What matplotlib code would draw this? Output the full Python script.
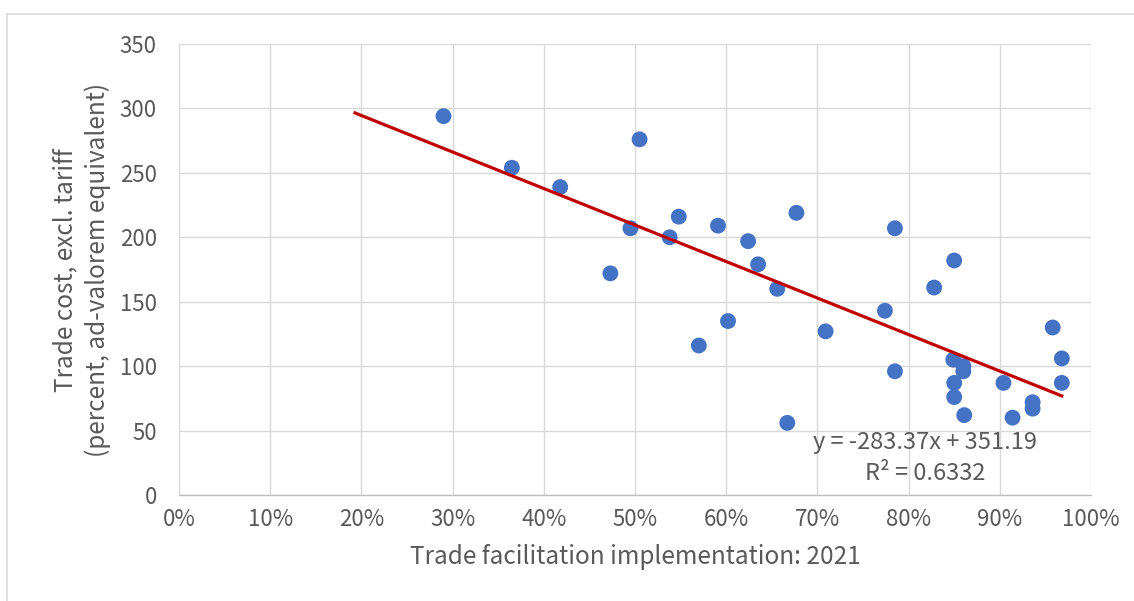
import numpy as np
import matplotlib as mpl
mpl.use('Agg')
import matplotlib.pyplot as plt
from matplotlib.ticker import PercentFormatter
from matplotlib.lines import Line2D

plt.rcParams['font.family'] = ['Noto Sans CJK SC', 'DejaVu Sans']
plt.rcParams['font.weight'] = 'light'

# ------------------------------------------------------------------
# Data
# ------------------------------------------------------------------
tf_impl = [0.290, 0.365, 0.418, 0.473, 0.495, 0.505, 0.538, 0.548, 0.570,
           0.591, 0.602, 0.624, 0.635, 0.656, 0.667, 0.677, 0.709, 0.774,
           0.785, 0.785, 0.828, 0.850, 0.849, 0.850, 0.850, 0.860, 0.860,
           0.861, 0.904, 0.914, 0.936, 0.936, 0.958, 0.968, 0.968]
trade_cost = [294, 254, 239, 172, 207, 276, 200, 216, 116,
              209, 135, 197, 179, 160, 56, 219, 127, 143,
              207, 96, 161, 182, 105, 87, 76, 100, 96,
              62, 87, 60, 72, 67, 130, 106, 87]

slope, intercept, r2 = -283.37, 351.19, 0.6332
trend_x = [0.193, 0.968]

ylabel_lines = ["Trade cost, excl. tariff", "(percent, ad-valorem equivalent)"]

GRAY = "#595959"
GRID = "#D9D9D9"
W, H = 1134, 601

fig = plt.figure(figsize=(W / 100, H / 100), dpi=100)
ax = fig.add_axes([179/W, 1 - 495/H, 912/W, 451/H])

# chart border (only top and left edges visible in the crop)
fig.lines.append(Line2D([7/W, 1.0], [1 - 14/H] * 2, transform=fig.transFigure,
                        color=GRID, lw=1.2))
fig.lines.append(Line2D([7/W] * 2, [0.0, 1 - 14/H], transform=fig.transFigure,
                        color=GRID, lw=1.2))

ax.scatter(tf_impl, trade_cost, s=130, color="#4472C4", edgecolors="none", zorder=3)
tx = np.array(trend_x)
ax.plot(tx, slope * tx + intercept, color="#C00000", lw=2.3, zorder=4)

ax.set_xlim(0, 1)
ax.set_ylim(0, 350)
ax.set_xticks(np.arange(0, 1.01, 0.1))
ax.set_yticks(np.arange(0, 351, 50))
ax.xaxis.set_major_formatter(PercentFormatter(1.0, decimals=0))
ax.grid(True, color=GRID, lw=1.0, zorder=0)
ax.set_axisbelow(True)
for side in ["top", "right", "left"]:
    ax.spines[side].set_visible(False)
ax.spines["bottom"].set_color("#BFBFBF")
ax.spines["bottom"].set_linewidth(1.0)
ax.tick_params(length=0, colors=GRAY, labelsize=16)
ax.tick_params(axis="y", pad=16)
ax.tick_params(axis="x", pad=9)

ax.set_xlabel("Trade facilitation implementation: 2021", fontsize=17.5, color=GRAY, labelpad=10)

# two-line y label, placed line by line
for xpix, line in zip([65, 98], ylabel_lines):
    fig.text(xpix / W, 1 - 270 / H, line, rotation=90, ha="center", va="center",
             fontsize=17.5, color=GRAY)

ax.text(0.818, 29, f"y = {slope}x + {intercept}\nR² = {r2}", ha="center", va="center",
        fontsize=17, color=GRAY, linespacing=1.45, zorder=5)

fig.savefig("out.png", dpi=100, facecolor="white")
plt.close(fig)
